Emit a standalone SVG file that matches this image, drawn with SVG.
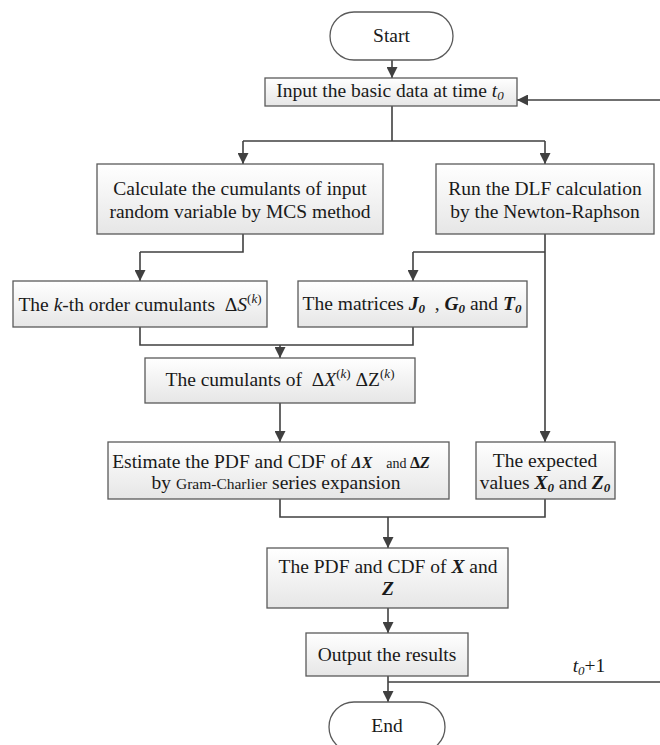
<svg xmlns="http://www.w3.org/2000/svg" width="660" height="745" viewBox="0 0 660 745">
<defs>
<linearGradient id="g" x1="0" y1="0" x2="0" y2="1">
<stop offset="0" stop-color="#ffffff"/>
<stop offset="1" stop-color="#e6e6e6"/>
</linearGradient>
<marker id="ah" viewBox="0 0 10 10" refX="10" refY="5" markerWidth="11" markerHeight="11" markerUnits="userSpaceOnUse" orient="auto">
<path d="M0,0 L10,5 L0,10 z" fill="#404040"/>
</marker>
<style>
.box{fill:url(#g);stroke:#5a5a5a;stroke-width:1.3}
.term{fill:#ffffff;stroke:#5a5a5a;stroke-width:1.3}
.t{font-family:"Liberation Serif","Times New Roman",serif;font-size:19.5px;fill:#1a1a1a;text-anchor:middle}
.ln{fill:none;stroke:#404040;stroke-width:1.6}
.ar{fill:none;stroke:#404040;stroke-width:1.6;marker-end:url(#ah)}
.bi{font-weight:bold;font-style:italic}
.i{font-style:italic}
.sub{font-size:13px}
</style>
</defs>
<g id="connectors">
<path class="ar" d="M392,60 V78"/>
<path class="ln" d="M392,106 V141 M243,141 H545"/>
<path class="ar" d="M243,141 V164"/>
<path class="ar" d="M545,141 V164"/>
<path class="ln" d="M243,234 V252 H140"/>
<path class="ar" d="M140,252 V281"/>
<path class="ar" d="M545,234 V442"/>
<path class="ln" d="M545,252 H413"/>
<path class="ar" d="M413,252 V281"/>
<path class="ln" d="M140,327 V345 H413 V327"/>
<path class="ar" d="M280,345 V358"/>
<path class="ar" d="M280,403 V442"/>
<path class="ln" d="M280,499 V517 H545 V499"/>
<path class="ar" d="M388,517 V548"/>
<path class="ar" d="M388,608 V633"/>
<path class="ar" d="M388,676 V702"/>
<path class="ln" d="M388,682 H660"/>
<path class="ar" d="M660,100 H517"/>
<text class="t" x="589" y="672"><tspan class="i">t</tspan><tspan class="i sub" dy="3">0</tspan><tspan dy="-3">+1</tspan></text>
</g>
<g id="start">
<rect class="term" x="330" y="12" width="123" height="48" rx="24" ry="24"/>
<text class="t" x="391.5" y="42">Start</text>
</g>
<g id="input">
<rect class="box" x="265" y="78" width="252" height="28"/>
<text class="t" x="390" y="97">Input the basic data at time <tspan class="i">t</tspan><tspan class="i sub" dy="3">0</tspan></text>
</g>
<g id="calc">
<rect class="box" x="97" y="164" width="286" height="70"/>
<text class="t" x="240" y="195">Calculate the cumulants of input</text>
<text class="t" x="240" y="218">random variable by MCS method</text>
</g>
<g id="run">
<rect class="box" x="436" y="164" width="218" height="70"/>
<text class="t" x="545" y="195">Run the DLF calculation</text>
<text class="t" x="545" y="218">by the Newton-Raphson</text>
</g>
<g id="kth">
<rect class="box" x="13" y="281" width="254" height="46"/>
<text class="t" x="140" y="311" xml:space="preserve">The <tspan class="i">k</tspan>-th order cumulants  Δ<tspan class="i">S</tspan><tspan class="sub" dy="-8">(</tspan><tspan class="sub i">k</tspan><tspan class="sub">)</tspan></text>
</g>
<g id="matrices">
<rect class="box" x="298" y="281" width="229" height="46"/>
<text class="t" x="412" y="310" xml:space="preserve">The matrices <tspan class="bi">J</tspan><tspan class="bi sub" dy="3">0</tspan><tspan dy="-3">  , </tspan><tspan class="bi">G</tspan><tspan class="bi sub" dy="3">0</tspan><tspan dy="-3"> and </tspan><tspan class="bi">T</tspan><tspan class="bi sub" dy="3">0</tspan></text>
</g>
<g id="cumulants">
<rect class="box" x="145" y="358" width="270" height="45"/>
<text class="t" x="280" y="386" xml:space="preserve">The cumulants of  Δ<tspan class="i">X</tspan><tspan class="sub" dy="-8">(</tspan><tspan class="sub i">k</tspan><tspan class="sub">)</tspan><tspan dy="8"> ΔZ</tspan><tspan class="sub" dy="-8">(</tspan><tspan class="sub i">k</tspan><tspan class="sub">)</tspan></text>
</g>
<g id="estimate">
<rect class="box" x="108" y="442" width="341" height="57"/>
<text class="t" x="271" y="468" xml:space="preserve">Estimate the PDF and CDF of <tspan class="bi" style="font-size:16px">ΔX</tspan><tspan style="font-size:14px">    and </tspan><tspan style="font-size:16px;font-weight:bold">Δ</tspan><tspan class="bi" style="font-size:16px">Z</tspan></text>
<text class="t" x="276" y="489">by <tspan style="font-size:15.5px">Gram-Charlier</tspan> series expansion</text>
</g>
<g id="expected">
<rect class="box" x="476" y="442" width="139" height="57"/>
<text class="t" x="545" y="467">The expected</text>
<text class="t" x="545" y="489" xml:space="preserve">values <tspan class="bi">X</tspan><tspan class="bi sub" dy="3">0</tspan><tspan dy="-3"> and </tspan><tspan class="bi">Z</tspan><tspan class="bi sub" dy="3">0</tspan></text>
</g>
<g id="pdf">
<rect class="box" x="267" y="548" width="241" height="60"/>
<text class="t" x="388" y="573">The PDF and CDF of <tspan class="bi">X</tspan> and</text>
<text class="t" x="388" y="595"><tspan class="bi">Z</tspan></text>
</g>
<g id="output">
<rect class="box" x="306" y="633" width="162" height="43"/>
<text class="t" x="387" y="661">Output the results</text>
</g>
<g id="end">
<rect class="term" x="329" y="702" width="116" height="50" rx="25" ry="25"/>
<text class="t" x="387" y="732">End</text>
</g>
</svg>
